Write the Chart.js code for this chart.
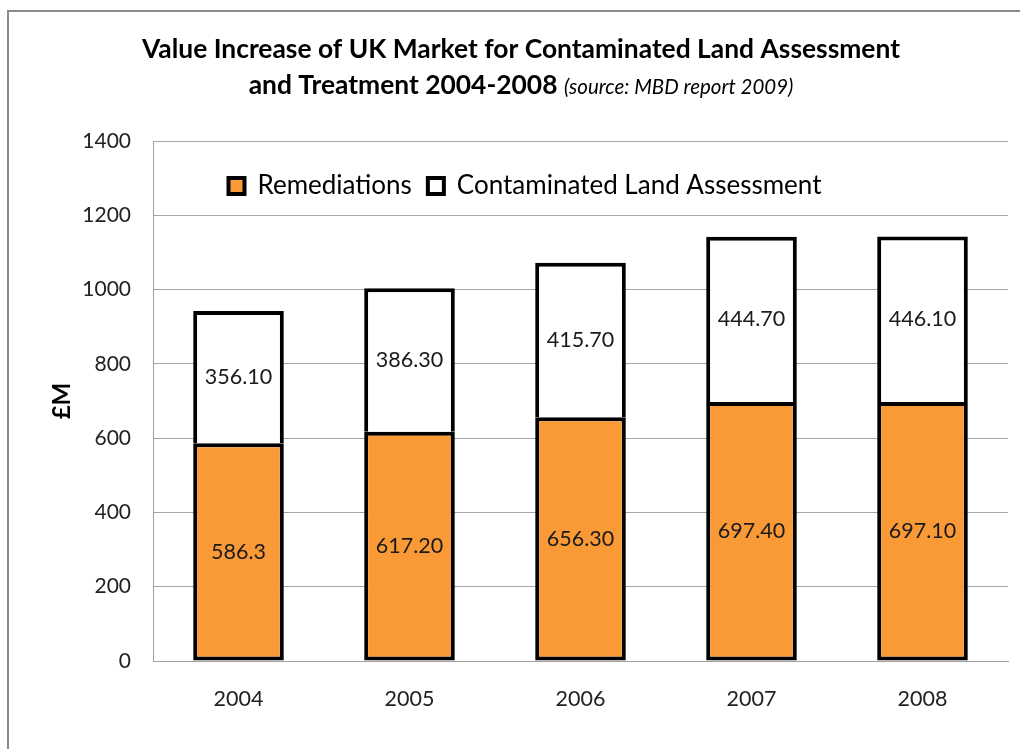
<!DOCTYPE html>
<html>
<head>
<meta charset="utf-8">
<script src="https://cdn.jsdelivr.net/npm/chart.js@4"></script>
<style>
  body { margin: 0; background: #fff; }
  #wrap { width: 1020px; height: 749px; position: relative; }
</style>
</head>
<body>
<div id="wrap"><canvas id="chart"></canvas></div>
<script>
// UK contaminated land market, £M
const years = ['2004', '2005', '2006', '2007', '2008']
const remediations = [586.3, 617.2, 656.3, 697.4, 697.1]
const assessment = [356.1, 386.3, 415.7, 444.7, 446.1]
// labels exactly as printed on the bars (2004 one has a single decimal)
const remediationLabels = ['586.3', '617.20', '656.30', '697.40', '697.10']
const assessmentLabels = ['356.10', '386.30', '415.70', '444.70', '446.10']

const FONT = 'Lato, "Open Sans", sans-serif'

// gray frame on the top and left edges, like the pasted Excel chart
const framePlugin = {
  id: 'frame',
  beforeDraw(chart) {
    const { ctx } = chart
    ctx.save()
    ctx.strokeStyle = '#8a8a8a'
    ctx.lineWidth = 2
    ctx.beginPath()
    ctx.moveTo(8, chart.height)
    ctx.lineTo(8, 11)
    ctx.lineTo(chart.width, 11)
    ctx.stroke()
    ctx.restore()
  },
}

// two-line title; second line mixes bold text with an italic source note
const titlePlugin = {
  id: 'mixedTitle',
  afterDraw(chart) {
    const { ctx } = chart
    const cx = 521
    ctx.save()
    ctx.fillStyle = '#000'
    ctx.textBaseline = 'alphabetic'
    ctx.textAlign = 'left'
    const bold = `bold 26.4px ${FONT}`
    const ital = `italic 20.5px ${FONT}`
    const line1 = 'Value Increase of UK Market for Contaminated Land Assessment'
    ctx.font = bold
    const w = ctx.measureText(line1).width
    ctx.fillText(line1, cx - w / 2, 58)
    const a = 'and Treatment 2004-2008 '
    const b = '(source: MBD report 2009)'
    const wa = ctx.measureText(a).width
    ctx.font = ital
    const wb = ctx.measureText(b).width
    const x0 = cx - (wa + wb) / 2
    ctx.font = bold
    ctx.fillText(a, x0, 94)
    ctx.font = ital
    ctx.fillText(b, x0 + wa, 94)
    ctx.restore()
  },
}

// value labels centred in each stacked segment
const barLabels = {
  id: 'barLabels',
  afterDatasetsDraw(chart) {
    const { ctx } = chart
    ctx.save()
    ctx.font = `21.5px ${FONT}`
    ctx.fillStyle = '#1a1a1a'
    ctx.textAlign = 'center'
    ctx.textBaseline = 'middle'
    chart.data.datasets.forEach((ds, di) => {
      chart.getDatasetMeta(di).data.forEach((bar, i) => {
        const p = bar.getCenterPoint()
        ctx.fillText(ds.valueLabels[i], p.x, p.y)
      })
    })
    ctx.restore()
  },
}

// legend is a single row inside the plot, a bit left of centre:
// lay it out as a horizontal box and then place it over the chart area
const legendInside = {
  id: 'legendInside',
  afterInit(chart) {
    if (chart.legend) chart.legend.isHorizontal = () => true
  },
  afterLayout(chart) {
    const lg = chart.legend
    if (!lg) return
    const ca = chart.chartArea
    lg.left = ca.left
    lg.right = 2 * 525 - ca.left
    lg.top = 157
    lg.bottom = lg.top + lg.height
  },
}

new Chart(document.getElementById('chart'), {
  type: 'bar',
  data: {
    labels: years,
    datasets: [
      {
        label: 'Remediations',
        data: remediations,
        valueLabels: remediationLabels,
        backgroundColor: '#f99a36',
        borderColor: '#000',
        borderWidth: 4,
        borderSkipped: false,
      },
      {
        label: 'Contaminated Land Assessment',
        data: assessment,
        valueLabels: assessmentLabels,
        backgroundColor: '#fff',
        borderColor: '#000',
        borderWidth: 4,
        borderSkipped: 'bottom',
      },
    ],
  },
  options: {
    responsive: true,
    maintainAspectRatio: false,
    animation: false,
    categoryPercentage: 1,
    barPercentage: 0.53,
    layout: { padding: { top: 141, left: 44, right: 12, bottom: 28 } },
    scales: {
      x: {
        stacked: true,
        grid: { display: false, drawTicks: false },
        border: { display: true, color: '#a0a0a0', width: 1 },
        ticks: { color: '#222', font: { family: FONT, size: 21.5 }, padding: 25 },
        afterFit: s => { s.height = 60 },
      },
      y: {
        stacked: true,
        min: 0,
        max: 1400,
        grid: { color: '#a6a6a6', lineWidth: 1, drawTicks: false },
        border: { display: true, color: '#a0a0a0', width: 1 },
        ticks: {
          stepSize: 200,
          color: '#222',
          font: { family: FONT, size: 21 },
          padding: 22,
          callback: v => String(v),
        },
        title: { display: true, text: '£M', color: '#000', font: { family: FONT, size: 24, weight: 'bold' } },
        afterFit: s => { s.width = 109 },
      },
    },
    plugins: {
      title: { display: false },
      tooltip: { enabled: false },
      legend: {
        position: 'chartArea',
        align: 'center',
        labels: {
          color: '#000',
          font: { family: FONT, size: 26 },
          boxWidth: 16,
          boxHeight: 16,
          padding: 16,
        },
      },
    },
  },
  plugins: [framePlugin, titlePlugin, barLabels, legendInside],
})
</script>
</body>
</html>
